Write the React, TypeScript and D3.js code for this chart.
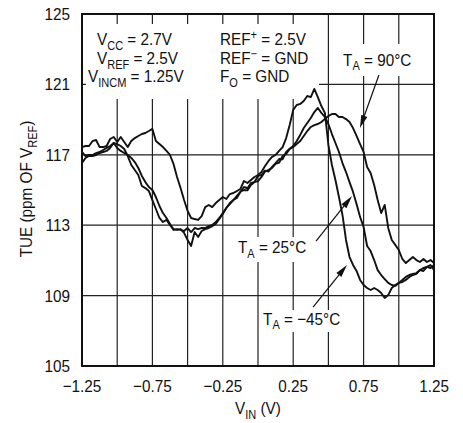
import React from 'react';
import * as d3 from 'd3';

const VIN = [
  -1.25, -1.225, -1.2, -1.175, -1.15, -1.125, -1.1, -1.075, -1.05, -1.025,
  -1, -0.975, -0.95, -0.925, -0.9, -0.875, -0.85, -0.825, -0.8, -0.775,
  -0.75, -0.725, -0.7, -0.675, -0.65, -0.625, -0.6, -0.575, -0.55, -0.525,
  -0.5, -0.475, -0.45, -0.425, -0.4, -0.375, -0.35, -0.325, -0.3, -0.275,
  -0.25, -0.225, -0.2, -0.175, -0.15, -0.125, -0.1, -0.075, -0.05, -0.025,
  0, 0.025, 0.05, 0.075, 0.1, 0.125, 0.15, 0.175, 0.2, 0.225,
  0.25, 0.275, 0.3, 0.325, 0.35, 0.375, 0.4, 0.425, 0.45, 0.475,
  0.5, 0.525, 0.55, 0.575, 0.6, 0.625, 0.65, 0.675, 0.7, 0.725,
  0.75, 0.775, 0.8, 0.825, 0.85, 0.875, 0.9, 0.925, 0.95, 0.975,
  1, 1.025, 1.05, 1.075, 1.1, 1.125, 1.15, 1.175, 1.2, 1.225,
  1.25,
];

const TUE_M45 = [
  117.44, 117.5, 117.5, 117.78, 117.84, 117.44, 117.44, 117.5, 117.9, 118.01,
  117.73, 118.01, 117.73, 117.44, 117.78, 117.95, 118.07, 118.18, 118.24, 118.35,
  118.47, 117.78, 117.61, 117.44, 117.22, 116.99, 116.48, 115.74, 115.11, 114.43,
  113.81, 113.41, 113.35, 113.3, 113.52, 114.03, 114.15, 114.03, 114.26, 114.43,
  114.6, 114.49, 114.77, 114.83, 114.94, 115.06, 115.51, 115.4, 115.57, 115.74,
  115.85, 116.02, 116.36, 116.65, 116.88, 116.99, 117.22, 117.44, 117.95, 118.69,
  119.55, 119.83, 119.89, 120.06, 120.34, 120.28, 120.74, 120.28, 119.77, 119.38,
  117.56, 116.42, 115.57, 114.6, 113.58, 112.16, 111.19, 110.74, 110.4, 109.89,
  109.6, 109.43, 109.32, 109.43, 109.32, 109.15, 108.86, 109.03, 109.43, 109.6,
  109.72, 109.77, 109.89, 110.06, 110.17, 110.23, 110.45, 110.4, 110.63, 110.57,
  110.74,
];

const TUE_25 = [
  117.16, 116.93, 116.99, 116.99, 117.1, 117.16, 117.27, 117.39, 117.5, 117.67,
  117.39, 117.22, 117.1, 116.99, 116.82, 116.59, 116.25, 115.8, 115.45, 115.17,
  115.0, 114.6, 114.09, 113.69, 113.41, 113.07, 112.73, 112.78, 112.73, 112.67,
  112.84, 112.61, 112.84, 112.78, 112.84, 112.84, 112.95, 113.01, 113.18, 113.41,
  113.69, 113.98, 114.26, 114.43, 114.66, 114.89, 115.17, 115.1, 115.4, 115.45,
  115.8, 115.85, 116.1, 116.05, 116.31, 116.53, 116.76, 116.75, 117.16, 117.35,
  117.5, 117.78, 118.13, 118.52, 118.81, 119.09, 119.43, 119.66, 119.38, 119.15,
  118.75, 118.18, 117.67, 117.16, 116.53, 116.02, 115.45, 114.89, 114.2, 113.47,
  112.9, 111.82, 111.53, 111.02, 110.45, 110.17, 109.94, 109.72, 109.6, 109.55,
  109.72, 109.89, 110.06, 110.17, 110.23, 110.28, 110.45, 110.57, 110.63, 110.74,
  110.45,
];

const TUE_90 = [
  116.53, 116.82, 116.93, 116.93, 116.99, 117.1, 117.16, 117.22, 117.39, 117.67,
  117.61, 117.5, 117.33, 116.93, 116.42, 116.14, 115.85, 115.23, 115.11, 114.94,
  114.43, 113.92, 113.41, 113.18, 113.3, 113.01, 112.78, 112.73, 112.78, 112.56,
  112.16, 111.82, 112.61, 112.33, 112.67, 112.78, 112.84, 112.95, 113.07, 113.35,
  113.64, 113.98, 114.2, 114.43, 114.55, 114.9, 115.0, 114.98, 115.28, 115.45,
  115.5, 115.74, 116.05, 116.14, 116.25, 116.48, 116.55, 116.93, 117.05, 117.33,
  117.44, 117.61, 117.78, 118.07, 118.35, 118.58, 118.69, 118.75, 118.86, 119.03,
  119.2, 119.32, 119.32, 119.15, 119.15, 119.03, 118.86, 118.52, 118.07, 117.61,
  117.16, 116.31, 115.97, 115.28, 114.43, 113.69, 114.15, 112.84, 112.16, 111.88,
  111.59, 111.08, 110.85, 111.02, 111.19, 111.02, 110.91, 111.08, 110.91, 111.02,
  110.85,
];

const X_GRID = [-1.25, -1, -0.75, -0.5, -0.25, 0, 0.25, 0.5, 0.75, 1, 1.25];
const X_LABELS = [-1.25, -0.75, -0.25, 0.25, 0.75, 1.25];
const Y_GRID = [105, 109, 113, 117, 121, 125];

type Part = [string, '' | 'sub' | 'sup'];

const FONT = "'Liberation Sans', Arial, Helvetica, sans-serif";
const FS = 17;
const SX = 0.9;

function RichText({ x = 0, y = 0, parts, anchor = 'start', rotate = 0 }: { x?: number; y?: number; parts: Part[]; anchor?: string; rotate?: number }) {
  let shift = 0;
  return (
    <g transform={`translate(${x},${y}) rotate(${rotate}) scale(${SX},1)`}>
      <text x={0} y={0} textAnchor={anchor} fontFamily={FONT} fontSize={FS} fill="#111">
        {parts.map(([t, k], i) => {
          const target = k === 'sub' ? 4.5 : k === 'sup' ? -6.5 : 0;
          const dy = target - shift;
          shift = target;
          return (
            <tspan key={i} dy={dy} fontSize={k ? FS * 0.72 : FS}>
              {t}
            </tspan>
          );
        })}
      </text>
    </g>
  );
}

function Arrow({ x1, y1, x2, y2 }: { x1: number; y1: number; x2: number; y2: number }) {
  const dx = x2 - x1;
  const dy = y2 - y1;
  const len = Math.hypot(dx, dy);
  const ux = dx / len;
  const uy = dy / len;
  const hl = 13;
  const hw = 3.2;
  const bx = x2 - ux * hl;
  const by = y2 - uy * hl;
  const pts = [
    [x2, y2],
    [bx - uy * hw, by + ux * hw],
    [bx + uy * hw, by - ux * hw],
  ];
  return (
    <g>
      <line x1={x1} y1={y1} x2={bx} y2={by} stroke="#111" strokeWidth={1.2} />
      <polygon points={pts.map((p) => p.join(',')).join(' ')} fill="#111" />
    </g>
  );
}

export default function App() {
  const W = 463;
  const H = 423;
  const L = 82, T = 14, R = 434, B = 366;
  const x = d3.scaleLinear().domain([-1.25, 1.25]).range([L, R]);
  const y = d3.scaleLinear().domain([105, 125]).range([B, T]);
  const fmt = d3.format('.2f');

  const mk = (vals: number[]) =>
    d3
      .line<number>()
      .x((_, i) => x(VIN[i]))
      .y((d) => y(d))(vals) || '';

  const series = [TUE_M45, TUE_25, TUE_90];

  return (
    <svg width={W} height={H} style={{ position: 'absolute', left: 0, top: 0, background: '#fff' }}>
      <rect x={0} y={0} width={W} height={H} fill="#fff" />
      {X_GRID.map((v) => (
        <line key={'gx' + v} x1={x(v)} x2={x(v)} y1={T} y2={B} stroke="#222" strokeWidth={1.2} />
      ))}
      {Y_GRID.map((v) => (
        <line key={'gy' + v} x1={L} x2={R} y1={y(v)} y2={y(v)} stroke="#222" strokeWidth={1.2} />
      ))}
      <rect x={86} y={24} width={233} height={75} fill="#fff" />
      <rect x={339} y={44} width={82} height={32} fill="#fff" />
      <rect x={234} y={237} width={80} height={25} fill="#fff" />
      <rect x={259} y={310} width={90} height={22} fill="#fff" />
      {series.map((s, i) => (
        <path key={i} d={mk(s)} fill="none" stroke="#111" strokeWidth={1.9} strokeLinejoin="round" />
      ))}
      <rect x={L} y={T} width={R - L} height={B - T} fill="none" stroke="#111" strokeWidth={2} />
      {Y_GRID.map((v) => (
        <RichText key={'ty' + v} x={L - 12} y={y(v) + 6} anchor="end" parts={[[String(v), '']]} />
      ))}
      {X_LABELS.map((v) => (
        <RichText key={'tx' + v} x={x(v)} y={392} anchor="middle" parts={[[fmt(v), '']]} />
      ))}
      <RichText x={258} y={414} anchor="middle" parts={[['V', ''], ['IN', 'sub'], [' (V)', '']]} />
      <RichText x={32} y={189} rotate={-90} anchor="middle" parts={[['TUE (ppm OF V', ''], ['REF', 'sub'], [')', '']]} />
      <RichText x={97} y={45} parts={[['V', ''], ['CC', 'sub'], [' = 2.7V', '']]} />
      <RichText x={97} y={64} parts={[['V', ''], ['REF', 'sub'], [' = 2.5V', '']]} />
      <RichText x={88} y={82} parts={[['V', ''], ['INCM', 'sub'], [' = 1.25V', '']]} />
      <RichText x={220} y={45} parts={[['REF', ''], ['+', 'sup'], [' = 2.5V', '']]} />
      <RichText x={220} y={64} parts={[['REF', ''], ['\u2212', 'sup'], [' = GND', '']]} />
      <RichText x={220} y={82} parts={[['F', ''], ['O', 'sub'], [' = GND', '']]} />
      <RichText x={x(0.604)} y={y(122.05)} parts={[['T', ''], ['A', 'sub'], [' = 90\u00B0C', '']]} />
      <RichText x={x(-0.142)} y={y(111.42)} parts={[['T', ''], ['A', 'sub'], [' = 25\u00B0C', '']]} />
      <RichText x={x(0.036)} y={y(107.33)} parts={[['T', ''], ['A', 'sub'], [' = \u221245\u00B0C', '']]} />
      <Arrow x1={x(0.859)} y1={y(121.53)} x2={x(0.724)} y2={y(118.52)} />
      <Arrow x1={x(0.412)} y1={y(112.1)} x2={x(0.668)} y2={y(114.66)} />
      <Arrow x1={x(0.391)} y1={y(108.35)} x2={x(0.632)} y2={y(110.74)} />
    </svg>
  );
}
